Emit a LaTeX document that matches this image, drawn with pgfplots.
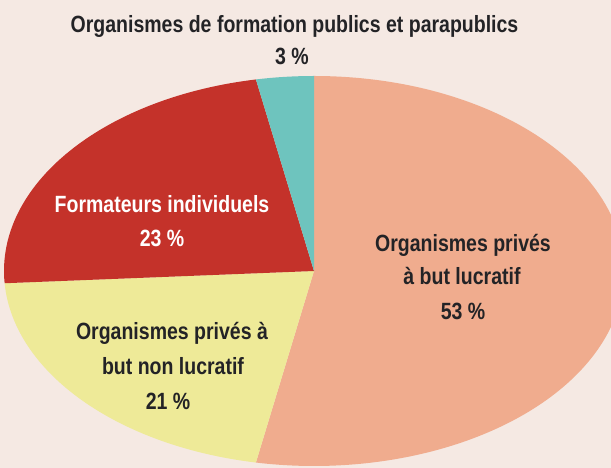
\documentclass[border=0pt]{standalone}
\usepackage{pgfplots}
\usepackage{pgfplotstable}
\pgfplotsset{compat=1.18}
\usepackage{fontspec}
\setmainfont{Liberation Sans}
\newfontfamily\cf[FakeStretch=0.83]{Liberation Sans}
\definecolor{bgC}{RGB}{245,233,227}
\definecolor{orC}{RGB}{240,172,142}
\definecolor{yeC}{RGB}{238,234,152}
\definecolor{reC}{RGB}{196,50,42}
\definecolor{cyC}{RGB}{110,196,190}
\definecolor{txC}{RGB}{35,35,38}

\pgfplotstableread{
name value
lucratif 53
nonlucratif 21
individuels 23
publics 3
}\piedata

\pgfplotstablegetelem{0}{value}\of\piedata \let\vA\pgfplotsretval
\pgfplotstablegetelem{1}{value}\of\piedata \let\vB\pgfplotsretval
\pgfplotstablegetelem{2}{value}\of\piedata \let\vC\pgfplotsretval
\pgfplotstablegetelem{3}{value}\of\piedata \let\vD\pgfplotsretval
\pgfmathsetmacro\aA{90}
\pgfmathsetmacro\aB{\aA-3.6*\vA}
\pgfmathsetmacro\aC{\aB-3.6*\vB}
\pgfmathsetmacro\aD{\aC-3.6*\vC}
\pgfmathsetmacro\aE{\aD-3.6*\vD}

\newcommand\lbl[1]{\cf\bfseries\fontsize{23.5}{27}\selectfont #1}

\begin{document}
\begin{tikzpicture}
\begin{axis}[
  x=1pt, y=1pt,
  xmin=0, xmax=611, ymin=0, ymax=468,
  hide axis,
  clip=true,
]
\fill[bgC] (axis cs:0,0) rectangle (axis cs:611,468);
\fill[orC] (axis cs:314,197) -- ++(\aA:310pt and 195pt) arc[start angle=\aA, end angle=\aB, x radius=310pt, y radius=195pt] -- cycle;
\fill[yeC] (axis cs:314,197) -- ++(\aB:310pt and 195pt) arc[start angle=\aB, end angle=\aC, x radius=310pt, y radius=195pt] -- cycle;
\fill[reC] (axis cs:314,197) -- ++(\aC:310pt and 195pt) arc[start angle=\aC, end angle=\aD, x radius=310pt, y radius=195pt] -- cycle;
\fill[cyC] (axis cs:314,197) -- ++(\aD:310pt and 195pt) arc[start angle=\aD, end angle=\aE, x radius=310pt, y radius=195pt] -- cycle;

\node[anchor=base, text=txC] at (axis cs:294.5,435) {\lbl{Organismes de formation publics et parapublics}};
\node[anchor=base, text=txC] at (axis cs:292,403) {\lbl{3 \%}};
\node[anchor=base, text=white] at (axis cs:162,255) {\lbl{Formateurs individuels}};
\node[anchor=base, text=white] at (axis cs:162,221) {\lbl{23 \%}};
\node[anchor=base, text=txC] at (axis cs:463,216) {\lbl{Organismes privés}};
\node[anchor=base, text=txC] at (axis cs:462,183) {\lbl{à but lucratif}};
\node[anchor=base, text=txC] at (axis cs:463,148) {\lbl{53 \%}};
\node[anchor=base, text=txC] at (axis cs:172,128) {\lbl{Organismes privés à}};
\node[anchor=base, text=txC] at (axis cs:173,93) {\lbl{but non lucratif}};
\node[anchor=base, text=txC] at (axis cs:168,58) {\lbl{21 \%}};
\end{axis}
\end{tikzpicture}
\end{document}
